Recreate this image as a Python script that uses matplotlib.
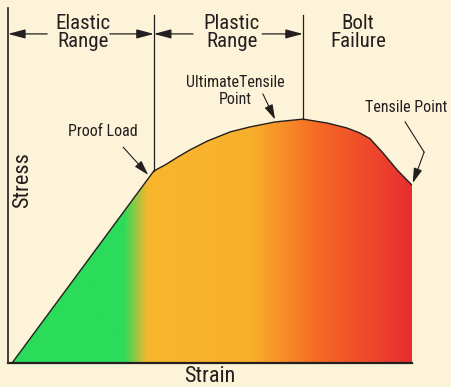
import matplotlib.pyplot as plt
import numpy as np
from matplotlib.colors import LinearSegmentedColormap
from matplotlib.path import Path
from matplotlib.patches import PathPatch

# stress-strain curve of a bolt (arbitrary units, 0-100)
strain = [1.0, 36.1, 38.9, 42.0, 45.0, 49.3, 55.0, 59.9, 66.1, 73.0,
          79.0, 83.9, 87.1, 89.6, 92.8, 96.3, 100.0]
stress = [0.0, 54.1, 55.8, 58.0, 60.0, 62.5, 65.1, 66.5, 67.9, 68.7,
          67.6, 66.2, 64.8, 63.2, 59.2, 54.4, 50.1]

proof_load = (36.1, 54.1)
ultimate = (73.0, 68.7)
fracture = (100.0, 50.1)

region_labels = ['Elastic\nRange', 'Plastic\nRange', 'Bolt\nFailure']
region_x = [18.6, 55.4, 86.6]

BG = '#FDF3D8'
INK = '#231F20'

plt.rcParams['font.family'] = ['Roboto Condensed', 'Liberation Sans', 'DejaVu Sans']

fig = plt.figure(figsize=(4.51, 3.87), dpi=100, facecolor=BG)
ax = fig.add_axes([8 / 451, 24 / 387, 404 / 451, 355 / 387])
ax.set_facecolor(BG)
ax.set_xlim(0, 100)
ax.set_ylim(0, 100)
ax.set_xticks([])
ax.set_yticks([])
for side in ('top', 'right'):
    ax.spines[side].set_visible(False)
ax.spines['left'].set_color('#3a3a3a')
ax.spines['left'].set_linewidth(1.1)
ax.spines['bottom'].set_color(INK)
ax.spines['bottom'].set_linewidth(1.6)

# gradient fill under the curve: green -> yellow -> orange -> red
cmap = LinearSegmentedColormap.from_list('bolt', [
    (0.0, '#2ADC5A'), (0.285, '#2ADC5A'), (0.345, '#F8B62D'),
    (0.60, '#F9B02C'), (0.772, '#F56824'), (1.0, '#E82E31')])
grad = np.linspace(0, 1, 512).reshape(1, -1)
img = ax.imshow(grad, cmap=cmap, aspect='auto', extent=(0, 100, 0, 75),
                origin='lower', zorder=1, interpolation='bilinear')
verts = list(zip(strain, stress)) + [(100.0, 0.0), (strain[0], 0.0)]
clip = PathPatch(Path(verts, closed=True), facecolor='none', edgecolor='none',
                 transform=ax.transData)
ax.add_patch(clip)
img.set_clip_path(clip)

ax.plot(strain, stress, color=INK, lw=1.0, zorder=3, solid_joinstyle='round')

# region boundaries
top = 98.0
ax.plot([0, 0], [0, 100], color='#3a3a3a', lw=1.1, zorder=3, clip_on=False)
ax.plot([proof_load[0]] * 2, [proof_load[1], top], color=INK, lw=0.9, zorder=3, clip_on=False)
ax.plot([ultimate[0]] * 2, [ultimate[1], top], color=INK, lw=0.9, zorder=3, clip_on=False)

arrow_kw = dict(arrowstyle='-|>,head_length=0.75,head_width=0.2', color=INK,
                lw=0.9, mutation_scale=14, shrinkA=0, shrinkB=0)
y_arr = 92.7
for tail, head in [(9.7, 0.0), (25.2, proof_load[0]),
                   (45.8, proof_load[0]), (62.9, ultimate[0])]:
    ax.annotate('', xy=(head, y_arr), xytext=(tail, y_arr),
                arrowprops=arrow_kw, annotation_clip=False)

for label, x in zip(region_labels, region_x):
    ax.text(x, 93.0, label, ha='center', va='center', fontsize=15,
            color=INK, linespacing=0.95)

# point callouts
small_kw = dict(arrowstyle='-|>,head_length=0.75,head_width=0.22', color=INK,
                lw=0.8, mutation_scale=12, shrinkA=0, shrinkB=0)
ax.text(23.5, 65.1, 'Proof Load', ha='center', va='center', fontsize=11.5, color=INK)
ax.annotate('', xy=(34.7, 53.0), xytext=(28.5, 60.8), arrowprops=small_kw)

ax.text(56.2, 76.6, 'UltimateTensile\nPoint', ha='center', va='center',
        fontsize=11.5, color=INK, linespacing=1.15)
ax.annotate('', xy=(66.1, 68.6), xytext=(63.1, 75.8), arrowprops=small_kw)

ax.text(98.5, 72.1, 'Tensile Point', ha='center', va='center', fontsize=11.5,
        color=INK, clip_on=False)
ax.plot([98.3, 103.0], [67.9, 59.4], color=INK, lw=0.8, clip_on=False)
ax.annotate('', xy=(fracture[0] + 0.2, fracture[1] + 0.6), xytext=(103.0, 59.4),
            arrowprops=small_kw, annotation_clip=False)

ax.text(3.5, 51.5, 'Stress', rotation=90, ha='center', va='center',
        fontsize=16, color=INK)
ax.text(50.0, -3.9, 'Strain', ha='center', va='center', fontsize=16,
        color=INK, clip_on=False)

fig.savefig('out.png', dpi=100, facecolor=BG)
